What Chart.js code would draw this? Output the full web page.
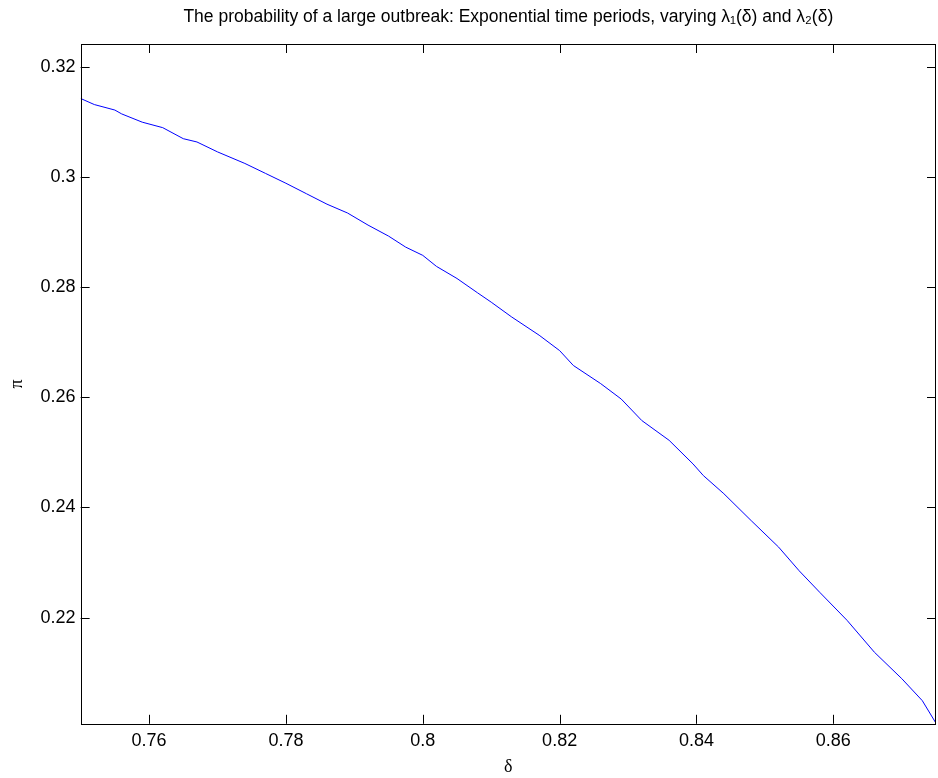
<!DOCTYPE html>
<html>
<head>
<meta charset="utf-8">
<script src="https://cdn.jsdelivr.net/npm/chart.js@4/dist/chart.umd.min.js"></script>
<style>
  html, body { margin: 0; padding: 0; background: #fff; }
  #wrap { width: 938px; height: 778px; }
</style>
</head>
<body>
<div id="wrap"><canvas id="grafico" width="938" height="778"></canvas></div>
<script>
// Valores
const delta = [0.750, 0.752, 0.755, 0.756, 0.759, 0.762, 0.765, 0.767, 0.770, 0.774,
  0.777, 0.780, 0.783, 0.786, 0.789, 0.792, 0.795, 0.7975, 0.800, 0.802,
  0.805, 0.808, 0.810, 0.813, 0.817, 0.820, 0.822, 0.826, 0.829, 0.832,
  0.836, 0.8395, 0.841, 0.844, 0.848, 0.852, 0.855, 0.858, 0.862, 0.866,
  0.870, 0.873, 0.875];
const piVals = [0.3143, 0.3132, 0.3122, 0.3115, 0.3100, 0.3090, 0.3070, 0.3064, 0.3046, 0.3025,
  0.3007, 0.2989, 0.2970, 0.2951, 0.2935, 0.2913, 0.2893, 0.2873, 0.2858, 0.2838,
  0.2816, 0.2790, 0.2773, 0.2746, 0.2713, 0.2685, 0.2658, 0.2625, 0.2597, 0.2558,
  0.2522, 0.2479, 0.2458, 0.2425, 0.2376, 0.2328, 0.2285, 0.2246, 0.2195, 0.2137,
  0.2089, 0.2049, 0.2008];
const xTicks = [0.76, 0.78, 0.80, 0.82, 0.84, 0.86];
const yTicks = [0.22, 0.24, 0.26, 0.28, 0.30, 0.32];
const xLimits = [0.75, 0.875];
const yLimits = [0.2007, 0.3242];

const titulo = "The probability of a large outbreak: Exponential time periods, varying λ₁(δ) and λ₂(δ)";

const sans = "'Liberation Sans', Arial, Helvetica, sans-serif";
const serif = "'Liberation Serif', 'Times New Roman', serif";

// Caixa e marcas internas no estilo MATLAB
const caixaPlugin = {
  id: "caixa",
  afterDraw(chart) {
    const { ctx, chartArea: a, scales } = chart;
    const len = 9;
    ctx.save();
    ctx.strokeStyle = "#000";
    ctx.lineWidth = 1;
    ctx.beginPath();
    scales.x.ticks.forEach((t) => {
      const px = Math.round(scales.x.getPixelForValue(t.value)) + 0.5;
      ctx.moveTo(px, a.bottom);
      ctx.lineTo(px, a.bottom - len);
      ctx.moveTo(px, a.top);
      ctx.lineTo(px, a.top + len);
    });
    scales.y.ticks.forEach((t) => {
      const py = Math.round(scales.y.getPixelForValue(t.value)) + 0.5;
      ctx.moveTo(a.left, py);
      ctx.lineTo(a.left + len, py);
      ctx.moveTo(a.right, py);
      ctx.lineTo(a.right - len, py);
    });
    ctx.stroke();
    ctx.strokeRect(Math.round(a.left) + 0.5, Math.round(a.top) + 0.5,
      Math.round(a.right - a.left) - 1, Math.round(a.bottom - a.top));
    ctx.restore();
  },
};

const ctx = document.getElementById("grafico").getContext("2d");

const config = {
  type: "line",
  data: {
    datasets: [
      {
        data: delta.map((v, i) => ({ x: v, y: piVals[i] })),
        borderColor: "rgb(0, 0, 255)",
        borderWidth: 1,
        pointRadius: 0,
        tension: 0,
        fill: false,
      },
    ],
  },
  options: {
    responsive: false,
    animation: false,
    layout: { padding: { top: 0, right: 2, bottom: 0, left: 0 } },
    scales: {
      x: {
        type: "linear",
        min: xLimits[0],
        max: xLimits[1],
        afterBuildTicks: (s) => { s.ticks = xTicks.map((v) => ({ value: v })); },
        grid: { display: false, drawTicks: false, tickLength: 0 },
        border: { display: false },
        ticks: {
          color: "#000",
          padding: 6,
          maxRotation: 0,
          font: { family: sans, size: 18 },
          callback: (v) => String(Number(v.toFixed(2))),
        },
        title: {
          display: true,
          text: "δ",
          color: "#000",
          font: { family: serif, size: 18 },
          padding: { top: -1, bottom: 0 },
        },
      },
      y: {
        type: "linear",
        min: yLimits[0],
        max: yLimits[1],
        afterBuildTicks: (s) => { s.ticks = yTicks.map((v) => ({ value: v })); },
        grid: { display: false, drawTicks: false, tickLength: 0 },
        border: { display: false },
        ticks: {
          color: "#000",
          padding: 5,
          font: { family: sans, size: 18 },
          callback: (v) => String(Number(v.toFixed(2))),
        },
        title: {
          display: true,
          text: "π",
          color: "#000",
          font: { family: serif, size: 18 },
          padding: { top: 6, bottom: 8 },
        },
      },
    },
    plugins: {
      legend: { display: false },
      tooltip: { enabled: false },
      title: {
        display: true,
        text: titulo,
        color: "#000",
        fullSize: false,
        font: { family: sans, size: 17.5, weight: "normal" },
        padding: { top: 6.5, bottom: 16.5 },
      },
    },
  },
  plugins: [caixaPlugin],
};

const chart = new Chart(ctx, config);
</script>
</body>
</html>
